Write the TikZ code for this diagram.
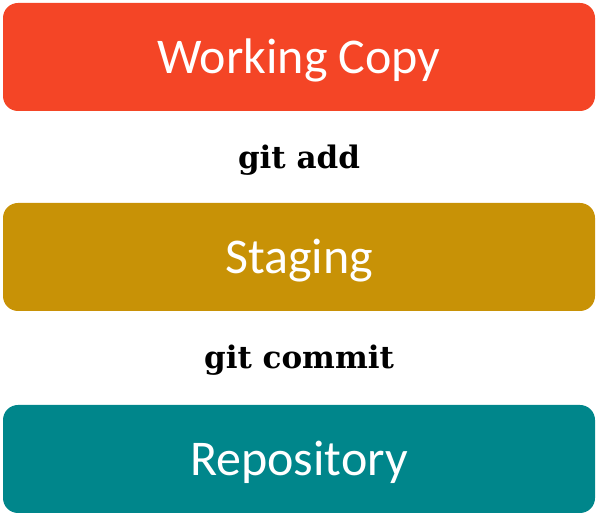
\documentclass[tikz,border=0pt]{standalone}
\usepackage{fontspec}
\setmainfont{DejaVu Serif}
\newfontfamily\boxfont{Carlito}
\usepackage{tikz}

\definecolor{workred}{HTML}{F44526}
\definecolor{stagegold}{HTML}{C89206}
\definecolor{repoteal}{HTML}{00868B}

\tikzset{
  stagebox/.style={rectangle, rounded corners=15pt, minimum width=592pt,
    minimum height=108pt, text height=45pt, text depth=11pt, text=white,
    font=\boxfont\fontsize{50}{50}\selectfont},
  cmdlabel/.style={font=\bfseries\fontsize{31}{31}\selectfont}
}

\begin{document}
\begin{tikzpicture}[x=1pt, y=1pt]
      \useasboundingbox (0,0) rectangle (597,518);

      % Draw the three areas
      \foreach \name/\col/\y/\txt in {work/workred/461/Working Copy, stage/stagegold/261/Staging, repo/repoteal/59/Repository}
        \node[stagebox, fill=\col] (\name) at (299,\y) {\txt};

      % Commands between them
      \node[cmdlabel] (add) at (299,358) {git add};
      \node[cmdlabel] (commit) at (299,158) {git commit};
    \end{tikzpicture}
\end{document}
